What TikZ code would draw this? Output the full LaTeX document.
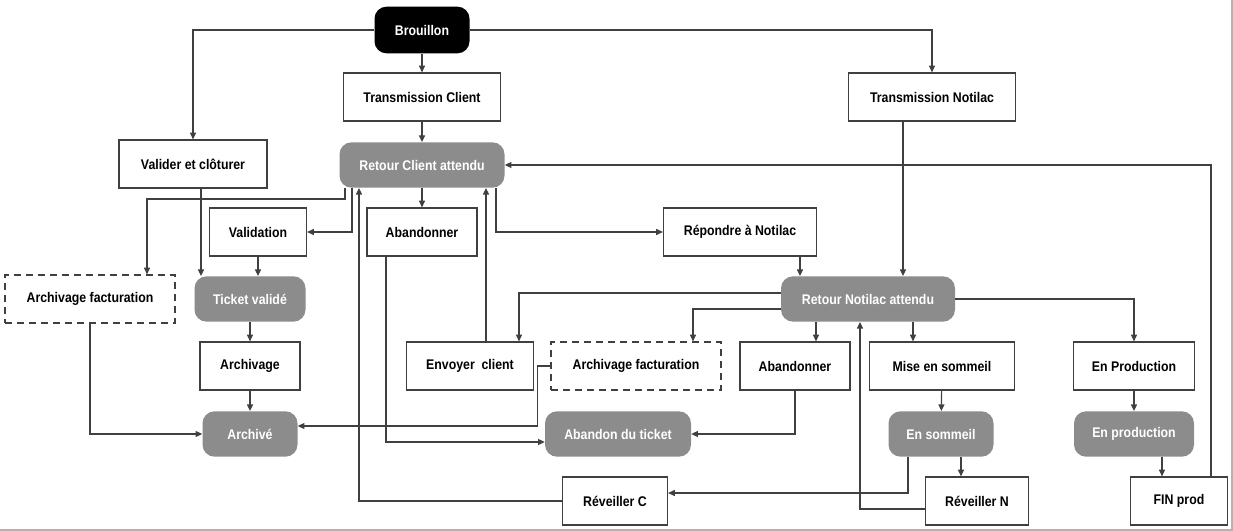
\documentclass[tikz,border=0pt]{standalone}
\usepackage{fontspec}
\setmainfont[FakeStretch=0.88]{Liberation Sans}
\usetikzlibrary{arrows.meta}

\definecolor{trait}{HTML}{404040}
\definecolor{etatgris}{HTML}{8C8C8C}

\tikzset{
  boite/.style={draw=trait, line width=0.9pt, fill=white, minimum width=#1*0.75pt,
    minimum height=36pt, inner sep=0pt, font=\fontsize{10.5}{12}\selectfont\bfseries},
  pointille/.style={boite=#1, dashed, dash pattern=on 5pt off 4pt},
  etat/.style={fill=etatgris, rounded corners=9pt, text=white, minimum width=#1*0.75pt,
    minimum height=34pt, inner sep=0pt, font=\fontsize{10.5}{12}\selectfont\bfseries},
  fleche/.style={draw=trait, line width=0.9pt, -{Triangle[length=5pt,width=4.5pt]}},
}

\begin{document}
\begin{tikzpicture}[x=0.75pt,y=-0.75pt]
			\useasboundingbox (0,0) rectangle (1233,531);
			\draw[gray!60, line width=1pt] (1232,0) -- (1232,530) -- (0,530);
			% etats et actions
			\node[etat=95, fill=black, minimum height=35pt] (brouillon) at (422,30) {Brouillon};
			\node[boite=157] (transC) at (422,97) {Transmission Client};
			\node[boite=167] (transN) at (932,97) {Transmission Notilac};
			\node[boite=148] (valider) at (193,164) {Valider et clôturer};
			\node[etat=165] (retourC) at (422,165) {Retour Client attendu};
			\node[boite=97] (validation) at (258,232) {Validation};
			\node[boite=110] (abandonC) at (422,232) {Abandonner};
			\node[boite=153] (repondre) at (740,232) {Répondre à Notilac};
			\node[pointille=170] (archFactL) at (90,299) {Archivage facturation};
			\node[etat=111] (ticket) at (250,299) {Ticket validé};
			\node[etat=174] (retourN) at (868,299) {Retour Notilac attendu};
			\node[boite=100] (archivage) at (250,366) {Archivage};
			\node[boite=127] (envoyer) at (470,366) {Envoyer\ \ client};
			\node[pointille=170] (archFactM) at (636,366) {Archivage facturation};
			\node[boite=110] (abandonN) at (795,366) {Abandonner};
			\node[boite=145] (miseSommeil) at (942,366) {Mise en sommeil};
			\node[boite=121] (enProdBox) at (1134,366) {En Production};
			\node[etat=95] (archive) at (250,434) {Archivé};
			\node[etat=146] (abandonT) at (618,434) {Abandon du ticket};
			\node[etat=105] (enSommeil) at (941,434) {En sommeil};
			\node[etat=120] (enProd) at (1134,434) {En production};
			\node[boite=105] (reveilC) at (615,501) {Réveiller C};
			\node[boite=103] (reveilN) at (977,501) {Réveiller N};
			\node[boite=97] (finProd) at (1179,501) {FIN prod};
			% transitions
			\draw[fleche] (brouillon.west) -| (valider.north);
			\draw[fleche] (brouillon) -- (transC);
			\draw[fleche] (brouillon.east) -| (transN.north);
			\draw[fleche] (transC) -- (retourC);
			\draw[fleche] ([xshift=-21.75pt]transN.south) -- ([xshift=-21.75pt]transN.south |- retourN.north);
			\draw[fleche] ([xshift=6pt]valider.south) -- ([xshift=6pt]valider.south |- ticket.north);
			\draw[fleche] ([xshift=-57.75pt]retourC.south) -- ++(0,11) -| ([xshift=42.75pt]archFactL.north);
			\draw[fleche] ([xshift=-52.5pt]retourC.south) |- (validation.east);
			\draw[fleche] (retourC) -- (abandonC);
			\draw[fleche] (validation.south) -- (validation.south |- ticket.north);
			\draw[fleche] (ticket) -- (archivage);
			\draw[fleche] (archivage) -- (archive);
			\draw[fleche] (archFactL.south) |- (archive.west);
			\draw[fleche] (archFactM.west) -- ++(-13,0) |- ([yshift=6pt]archive.east);
			\draw[fleche] ([xshift=-27pt]abandonC.south) |- ([yshift=-6pt]abandonT.west);
			\draw[fleche] (reveilC.west) -| ([xshift=-47.25pt]retourC.south);
			\draw[fleche] ([xshift=12pt]envoyer.north) -- ([xshift=12pt]envoyer.north |- retourC.south);
			\draw[fleche] ([xshift=55.5pt]retourC.south) |- (repondre.west);
			\draw[fleche] ([xshift=45pt]repondre.south) -- ([xshift=45pt]repondre.south |- retourN.north);
			\draw[fleche] ([yshift=4.5pt]retourN.west) -| ([xshift=36.75pt]envoyer.north);
			\draw[fleche] ([yshift=-7.5pt]retourN.west) -| ([xshift=42.75pt]archFactM.north);
			\draw[fleche] ([xshift=-39pt]retourN.south) -- ([xshift=-39pt]retourN.south |- abandonN.north);
			\draw[fleche] ([xshift=33.75pt]retourN.south) -- ([xshift=33.75pt]retourN.south |- miseSommeil.north);
			\draw[fleche] (retourN.east) -| (enProdBox.north);
			\draw[fleche] (abandonN.south) |- (abandonT.east);
			\draw[fleche] (miseSommeil) -- (enSommeil);
			\draw[fleche] ([xshift=-24.75pt]enSommeil.south) |- ([yshift=6pt]reveilC.east);
			\draw[fleche] ([xshift=15pt]enSommeil.south) -- ([xshift=15pt]enSommeil.south |- reveilN.north);
			\draw[fleche] ([yshift=-6pt]reveilN.west) -| ([xshift=-6pt]retourN.south);
			\draw[fleche] (enProdBox) -- (enProd);
			\draw[fleche] ([xshift=21pt]enProd.south) -- ([xshift=21pt]enProd.south |- finProd.north);
			\draw[fleche] ([xshift=24pt]finProd.north) |- (retourC.east);
\end{tikzpicture}
\end{document}
